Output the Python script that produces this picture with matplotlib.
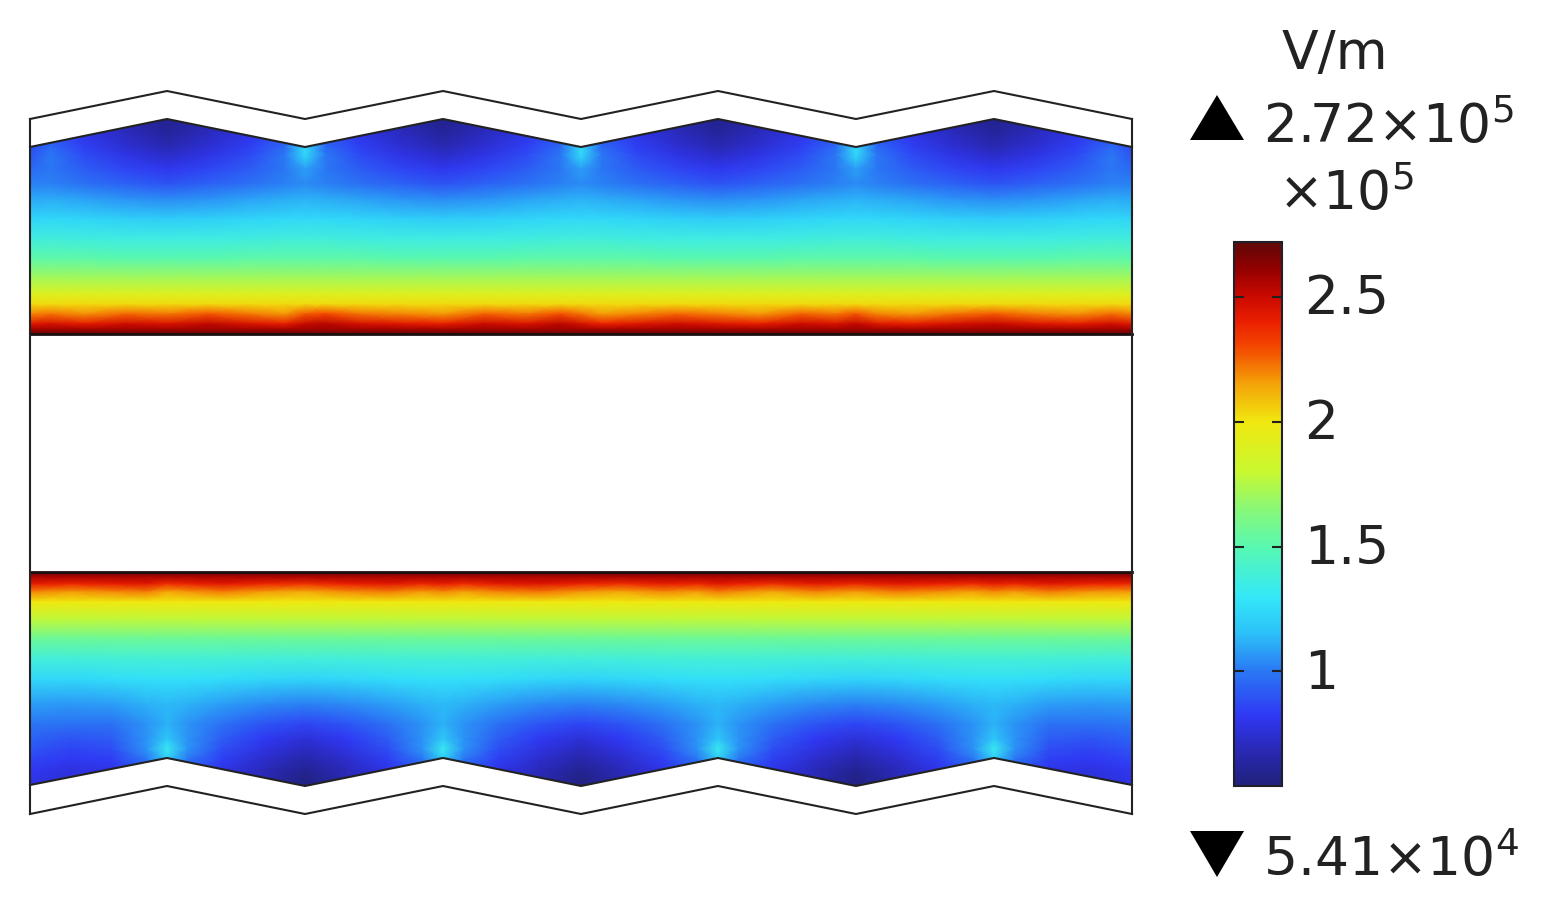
#!/usr/bin/env python3
"""
Electric field norm in a corrugated channel (surface plot with rainbow colorbar)
"""
import numpy as np
import matplotlib
matplotlib.use('Agg')
import matplotlib.pyplot as plt
from matplotlib.colors import LinearSegmentedColormap
from matplotlib.patches import Polygon
from matplotlib.transforms import ScaledTranslation

plt.rcParams['font.family'] = ['DejaVu Sans']
plt.rcParams['mathtext.default'] = 'regular'

W, H = 1544, 912

# %% geometry (picture pixels)
wave_x = [30, 167, 305, 443, 581, 718, 856, 994, 1132]
top_outer_y = [120, 92, 120, 92, 120, 92, 120, 92, 120]
top_inner_y = [148, 120, 148, 120, 148, 120, 148, 120, 148]
bot_inner_y = [786, 759, 787, 759, 787, 759, 787, 759, 786]
bot_outer_y = [815, 787, 815, 787, 815, 787, 815, 787, 815]
channel_top_y = 335
channel_bot_y = 573

# %% field values in 1e5 V/m, read from the colours
# columns go from the hot wall corner (0) to the dark wall corner (1) over half a period
col_frac = [0, 0.15, 0.4, 0.7, 1.0]

top_rows = [116, 125, 135, 148, 156, 170, 185, 200, 220, 240, 260, 280, 295, 305, 315, 325, 331, 336]
top_field = [
    [1.00, 0.88, 0.78, 0.68, 0.60],
    [1.00, 0.88, 0.78, 0.68, 0.60],
    [1.05, 0.90, 0.80, 0.71, 0.63],
    [1.25, 0.96, 0.84, 0.75, 0.68],
    [1.25, 1.00, 0.87, 0.79, 0.73],
    [1.08, 1.00, 0.92, 0.86, 0.81],
    [1.04, 1.02, 0.98, 0.94, 0.90],
    [1.12, 1.11, 1.09, 1.06, 1.04],
    [1.24, 1.24, 1.23, 1.21, 1.20],
    [1.38, 1.38, 1.37, 1.36, 1.36],
    [1.52, 1.52, 1.52, 1.51, 1.51],
    [1.72, 1.72, 1.72, 1.72, 1.72],
    [1.90, 1.90, 1.90, 1.90, 1.90],
    [2.03, 2.03, 2.03, 2.03, 2.03],
    [2.20, 2.20, 2.20, 2.20, 2.20],
    [2.44, 2.44, 2.44, 2.44, 2.44],
    [2.60, 2.60, 2.60, 2.60, 2.60],
    [2.72, 2.72, 2.72, 2.72, 2.72],
]
top_end_col = [0.82, 0.82, 0.84, 0.88, 0.90, 0.96, 1.02, 1.10, 1.23, 1.37, 1.52, 1.72,
               1.90, 2.03, 2.20, 2.44, 2.60, 2.72]

bot_rows = [572, 578, 585, 593, 603, 620, 640, 660, 680, 705, 725, 740, 750, 760, 770, 780, 790]
bot_field = [
    [2.72, 2.72, 2.72, 2.72, 2.72],
    [2.56, 2.56, 2.56, 2.56, 2.56],
    [2.38, 2.38, 2.38, 2.38, 2.38],
    [2.16, 2.16, 2.16, 2.16, 2.16],
    [2.00, 2.00, 2.00, 2.00, 2.00],
    [1.78, 1.78, 1.78, 1.78, 1.78],
    [1.56, 1.56, 1.56, 1.56, 1.56],
    [1.39, 1.39, 1.39, 1.38, 1.38],
    [1.27, 1.27, 1.26, 1.24, 1.23],
    [1.14, 1.12, 1.08, 1.04, 1.02],
    [1.12, 1.06, 0.98, 0.90, 0.86],
    [1.18, 1.06, 0.92, 0.82, 0.76],
    [1.32, 1.06, 0.88, 0.78, 0.71],
    [1.20, 1.00, 0.84, 0.74, 0.66],
    [1.05, 0.92, 0.80, 0.70, 0.61],
    [1.05, 0.92, 0.78, 0.68, 0.57],
    [1.05, 0.92, 0.78, 0.68, 0.56],
]
bot_end_col = [2.72, 2.56, 2.38, 2.16, 2.00, 1.78, 1.56, 1.38, 1.24, 1.08, 1.00, 0.94,
               0.90, 0.86, 0.82, 0.80, 0.80]
bot_near_end_col = [2.72, 2.56, 2.38, 2.16, 2.00, 1.78, 1.56, 1.38, 1.24, 1.07, 0.98, 0.90,
                    0.86, 0.82, 0.78, 0.76, 0.76]

# bumps along the hot band, left to right
top_ripple = [0.00, 0.03, -0.02, 0.05, 0.02, 0.08, 0.02, -0.03, 0.07, 0.10, 0.03, 0.00,
              -0.03, 0.06, 0.02, 0.09, 0.03, -0.04, 0.00, 0.05, 0.01, -0.03, 0.06, 0.02,
              0.08, 0.00, -0.03, 0.03, 0.07, 0.01, -0.02, 0.04, 0.00]
bot_ripple = [0.04, 0.00, 0.03, 0.05, -0.02, 0.01, 0.05, 0.00, -0.03, 0.02, 0.05, 0.00,
              0.03, -0.01, 0.04, 0.06, 0.01, -0.02, 0.03, 0.00, 0.05, 0.02, -0.02, 0.04,
              0.00, 0.05, 0.02, -0.01, 0.03, 0.00, 0.05, 0.01, 0.00]

vmin, vmax = 0.541, 2.72
cbar_ticks = [1, 1.5, 2, 2.5]
cbar_labels = ['1', '1.5', '2', '2.5']
unit_label = 'V/m'
max_label = r'2.72$\times$10$^{5}$'
min_label = r'5.41$\times$10$^{4}$'
scale_label = r'$\times$10$^{5}$'

# colours of the bar, read at these values
cmap_values = [0.541, 0.70, 0.82, 1.0, 1.15, 1.30, 1.50, 1.65, 1.80, 2.0, 2.15, 2.30, 2.40, 2.50, 2.62, 2.72]
cmap_colors = ['#20207a', '#2a2abc', '#3038f4', '#2a78f4', '#2cc0f8', '#34e8f8', '#58f8b0', '#88f878',
               '#c8f830', '#f0e810', '#f4a408', '#f44800', '#ec2000', '#cc0a00', '#900000', '#600808']


def half_to_full(table):
    # table runs over half a period: mirror it, then repeat for the 4 periods
    table = np.asarray(table, dtype=float)
    period = np.hstack([table, table[:, -2:0:-1]])
    return np.hstack([np.tile(period, (1, 4)), table[:, :1]])


def column_x(frac):
    # frac: node positions over one period, in half periods
    steps = np.concatenate([np.asarray(frac) + 2 * i for i in range(4)] + [[8.0]])
    return np.interp(steps, np.arange(len(wave_x)), wave_x)


half = np.array(col_frac)
top_x = column_x(np.concatenate([half, 2 - half[-2:0:-1]]))
top_values = half_to_full(top_field)
top_values[:, 0] = top_end_col
top_values[:, -1] = top_end_col
top_values[14:16] += np.array(top_ripple)

# bottom wall starts on its dark corner, so the half period is flipped
bot_x = column_x(np.concatenate([1 - half[::-1], 1 + half[1:-1]]))
bot_values = half_to_full(np.asarray(bot_field)[:, ::-1])
bot_values[:, 0] = bot_end_col
bot_values[:, -1] = bot_end_col
bot_values[:, 1] = bot_near_end_col
bot_values[:, -2] = bot_near_end_col
bot_values[2:4] += np.array(bot_ripple)

cmap_pos = (np.array(cmap_values) - vmin) / (vmax - vmin)
field_cmap = LinearSegmentedColormap.from_list('field', list(zip(cmap_pos, cmap_colors)), N=512)

# %% figure
fig = plt.figure(figsize=(W / 100, H / 100), dpi=100)
ax = fig.add_axes([0, 0, 1, 1])

mesh_kw = dict(cmap=field_cmap, vmin=vmin, vmax=vmax, shading='gouraud', rasterized=True)
top_mesh = ax.pcolormesh(top_x, top_rows, top_values, **mesh_kw)
bot_mesh = ax.pcolormesh(bot_x, bot_rows, bot_values, **mesh_kw)

top_clip = np.column_stack([wave_x + [wave_x[-1], wave_x[0]],
                            top_inner_y + [channel_top_y, channel_top_y]])
bot_clip = np.column_stack([wave_x + [wave_x[-1], wave_x[0]],
                            bot_inner_y + [channel_bot_y, channel_bot_y]])
top_mesh.set_clip_path(Polygon(top_clip, transform=ax.transData))
bot_mesh.set_clip_path(Polygon(bot_clip, transform=ax.transData))

# outlines
line_kw = dict(color='#222222', solid_joinstyle='miter')
ax.plot(wave_x, top_outer_y, lw=1.5, **line_kw)
ax.plot(wave_x, top_inner_y, lw=1.5, **line_kw)
ax.plot(wave_x, bot_inner_y, lw=1.5, **line_kw)
ax.plot(wave_x, bot_outer_y, lw=1.5, **line_kw)
ax.plot([wave_x[0], wave_x[-1]], [channel_top_y, channel_top_y], lw=2.0, color='#1a1010')
ax.plot([wave_x[0], wave_x[-1]], [channel_bot_y, channel_bot_y], lw=2.0, color='#1a1010')
ax.plot([wave_x[0], wave_x[0]], [top_outer_y[0], bot_outer_y[0]], lw=1.5, **line_kw)
ax.plot([wave_x[-1], wave_x[-1]], [top_outer_y[-1], bot_outer_y[-1]], lw=1.5, **line_kw)

# max / min markers and labels
ax.add_patch(Polygon([(1190, 141), (1244, 141), (1217, 96)], color='black', lw=0))
ax.add_patch(Polygon([(1190, 832), (1244, 832), (1217, 878)], color='black', lw=0))
text_kw = dict(fontsize=38.5, color='#222222', va='baseline', ha='left')
ax.text(1282, 69, unit_label, **text_kw)
ax.text(1263, 143, max_label, **text_kw)
ax.text(1278, 210, scale_label, **text_kw)
ax.text(1263, 876, min_label, **text_kw)

ax.set_xlim(0, W)
ax.set_ylim(H, 0)
ax.axis('off')

# colorbar
cax = fig.add_axes([1234 / W, 1 - 787 / H, 48 / W, 544 / H])
cbar = fig.colorbar(top_mesh, cax=cax, ticks=cbar_ticks)
cbar.ax.set_yticklabels(cbar_labels)
cbar.ax.tick_params(which='major', direction='in', left=True, right=True, length=7,
                    width=1.5, color='#202020', labelsize=38.5, labelcolor='#222222', pad=16)
cbar.ax.minorticks_off()
cbar.outline.set_linewidth(1.5)
cbar.outline.set_edgecolor('#20202a')
# labels sit a little higher than the ticks
for label in cbar.ax.get_yticklabels():
    label.set_transform(label.get_transform() + ScaledTranslation(0, 3 / 72, fig.dpi_scale_trans))

fig.savefig('out.png', dpi=100)
